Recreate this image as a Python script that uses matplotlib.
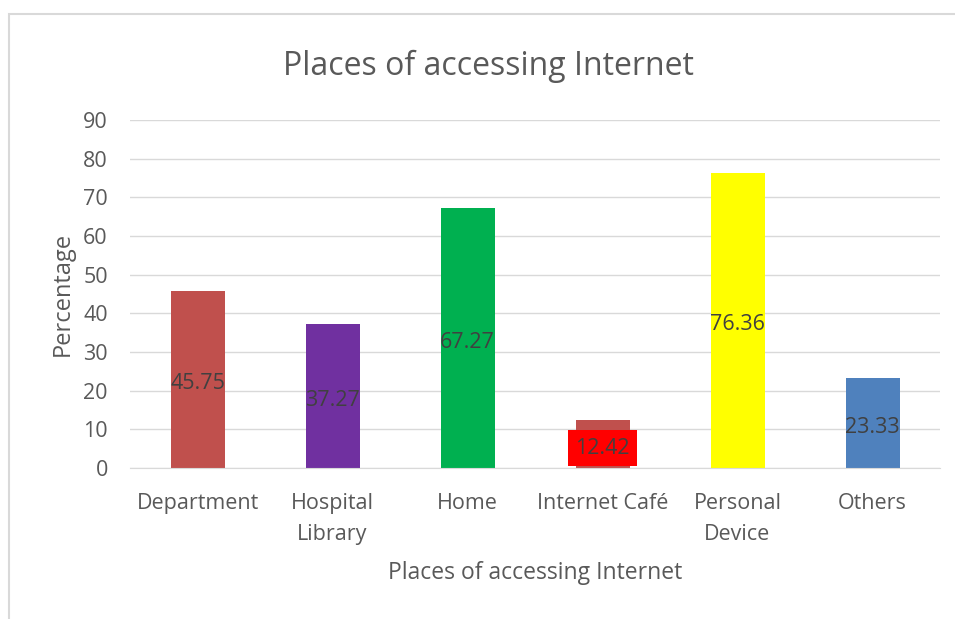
import matplotlib.pyplot as plt
from matplotlib.patches import Rectangle

# survey results, percentage of respondents per place
places = ['Department', 'Hospital\nLibrary', 'Home', 'Internet Café', 'Personal\nDevice', 'Others']
percent = [45.75, 37.27, 67.27, 12.42, 76.36, 23.33]
bar_colors = ['#C0504D', '#7030A0', '#00B050', '#C0504D', '#FFFF00', '#4F81BD']

plt.rcParams['font.family'] = ['Open Sans', 'DejaVu Sans']
grey = '#595959'

fig = plt.figure(figsize=(9.55, 6.19), dpi=100)
fig.patch.set_facecolor('white')

# chart border (only the top and left edges fall inside the image)
fig.patches.append(Rectangle((9 / 955, -0.1), 1.2, 1 - 14 / 619 + 0.1,
                             transform=fig.transFigure, fill=False,
                             edgecolor='#D9D9D9', linewidth=1.5))

ax = fig.add_axes([130 / 955, 1 - 468 / 619, 810 / 955, 348 / 619])
x = range(len(places))
ax.bar(x, percent, width=0.4, color=bar_colors, zorder=2)

# value labels in the middle of each bar
for i, v in zip(x, percent):
    box = None
    if places[i] == 'Internet Café':
        box = dict(facecolor='#FF0000', edgecolor='none', pad=5.5)
    ax.annotate(f'{v:.2f}', (i, v / 2), xytext=(0, -3), textcoords='offset points',
                ha='center', va='center', fontsize=15.5, color='#404040',
                bbox=box, zorder=3)

ax.set_xlim(-0.5, len(places) - 0.5)
ax.set_ylim(0, 90)
ax.set_yticks(range(0, 91, 10))
ax.set_xticks(list(x))
ax.set_xticklabels(places, fontsize=15.5, color=grey, linespacing=1.6)
ax.tick_params(axis='y', labelsize=15.5, labelcolor=grey, length=0, pad=16)
ax.tick_params(axis='x', length=0, pad=18)
ax.grid(axis='y', color='#D9D9D9', linewidth=1, zorder=0)
for side in ['top', 'right', 'left']:
    ax.spines[side].set_visible(False)
ax.spines['bottom'].set_color('#D9D9D9')

ax.set_ylabel('Percentage', fontsize=17, color=grey, labelpad=6)
ax.set_xlabel('Places of accessing Internet', fontsize=16.5, color=grey, labelpad=12)
fig.text(488 / 955, 1 - 66 / 619, 'Places of accessing Internet', ha='center',
         va='center', fontsize=23, color=grey)

plt.savefig('out.png', dpi=100)
